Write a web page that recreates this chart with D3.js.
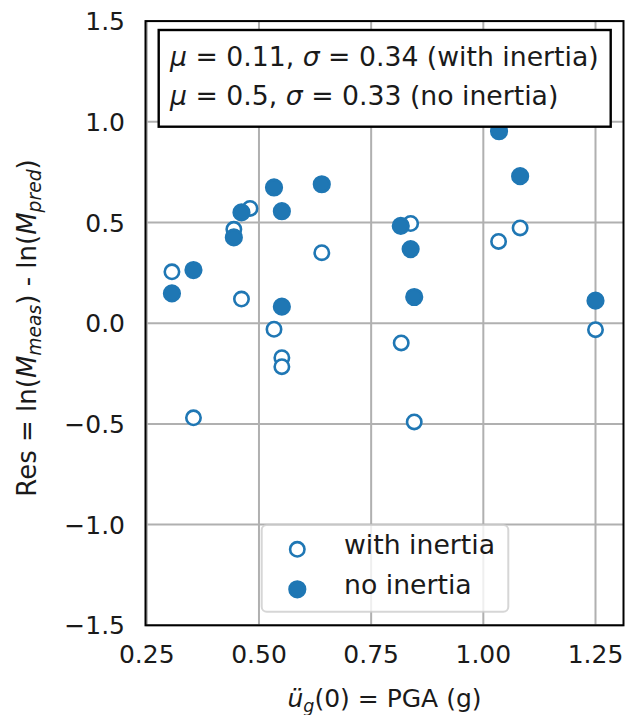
<!DOCTYPE html>
<html>
<head>
<meta charset="utf-8">
<script src="https://cdn.jsdelivr.net/npm/d3@7"></script>
<style>
  html, body { margin: 0; padding: 0; background: #fff; }
  svg { display: block; }
  text { font-family: "DejaVu Sans", sans-serif; fill: #1a1a1a; }
</style>
</head>
<body>
<svg id="chart" width="627" height="715"></svg>
<script>
// ---- data ----
const pgaWith = [0.306, 0.354, 0.444, 0.461, 0.480, 0.5335, 0.551, 0.551, 0.640, 0.817, 0.838, 0.846, 1.034, 1.082, 1.250];
const resWith = [0.255, -0.470, 0.466, 0.120, 0.570, -0.030, -0.171, -0.216, 0.350, -0.098, 0.495, -0.490, 0.406, 0.473, -0.032];
const pgaNo = [0.306, 0.354, 0.444, 0.461, 0.5335, 0.551, 0.551, 0.640, 0.816, 0.838, 0.846, 1.035, 1.082, 1.250];
const resNo = [0.148, 0.264, 0.426, 0.550, 0.674, 0.556, 0.082, 0.690, 0.483, 0.368, 0.130, 0.953, 0.730, 0.112];
const seriesNames = ["with inertia", "no inertia"];
const xTicks = [0.25, 0.50, 0.75, 1.00, 1.25];
const xTickLabels = ["0.25", "0.50", "0.75", "1.00", "1.25"];
const yTicks = [-1.5, -1.0, -0.5, 0.0, 0.5, 1.0, 1.5];
const yTickLabels = ["\u22121.5", "\u22121.0", "\u22120.5", "0.0", "0.5", "1.0", "1.5"];
const statLines = [
  {mu: "0.11", sigma: "0.34", tag: "(with inertia)"},
  {mu: "0.5", sigma: "0.33", tag: "(no inertia)"}
];

// ---- layout ----
const color = "#1f77b4";
const fs = 25;     // tick labels & axis labels
const fsT = 26.7;  // stats box & legend
const L = 145.5, R = 623.5, T = 21.1, B = 625.3;
const svg = d3.select("#chart");
const x = d3.scaleLinear().domain([0.2471, 1.3124]).range([L, R]);
const y = d3.scaleLinear().domain([-1.5, 1.5]).range([B, T]);

// grid
const grid = svg.append("g");
grid.selectAll("line.gx").data(xTicks).join("line")
  .attr("x1", d => x(d)).attr("x2", d => x(d)).attr("y1", T).attr("y2", B)
  .attr("stroke", "#b0b0b0").attr("stroke-width", 2);
grid.selectAll("line.gy").data(yTicks).join("line")
  .attr("y1", d => y(d)).attr("y2", d => y(d)).attr("x1", L).attr("x2", R)
  .attr("stroke", "#b0b0b0").attr("stroke-width", 2);

// points
const withData = pgaWith.map((v, i) => ({x: v, y: resWith[i]}));
const noData = pgaNo.map((v, i) => ({x: v, y: resNo[i]}));
svg.append("g").selectAll("circle").data(withData).join("circle")
  .attr("cx", d => x(d.x)).attr("cy", d => y(d.y)).attr("r", 7.2)
  .attr("fill", "#fff").attr("stroke", color).attr("stroke-width", 2.6);
svg.append("g").selectAll("circle").data(noData).join("circle")
  .attr("cx", d => x(d.x)).attr("cy", d => y(d.y)).attr("r", 7.8)
  .attr("fill", color).attr("stroke", color).attr("stroke-width", 2.6);

// frame
svg.append("rect").attr("x", L).attr("y", T).attr("width", R - L).attr("height", B - T)
  .attr("fill", "none").attr("stroke", "#000").attr("stroke-width", 2);

// tick labels
svg.append("g").selectAll("text").data(xTicks).join("text")
  .attr("x", d => x(d)).attr("y", 663).attr("text-anchor", "middle")
  .attr("font-size", fs).text((d, i) => xTickLabels[i]);
svg.append("g").selectAll("text").data(yTicks).join("text")
  .attr("x", 125).attr("y", d => y(d)).attr("dy", "0.36em").attr("text-anchor", "end")
  .attr("font-size", fs).text((d, i) => yTickLabels[i]);

// x label
const xl = svg.append("text").attr("x", (L + R) / 2).attr("y", 707)
  .attr("text-anchor", "middle").attr("font-size", fs);
xl.append("tspan").attr("font-style", "italic").text("\u00fc");
xl.append("tspan").attr("font-style", "italic").attr("font-size", fs * 0.7).attr("dy", 5).text("g");
xl.append("tspan").attr("dy", -5).text("(0) = PGA (g)");

// y label
const yl = svg.append("text").attr("transform", `translate(36,328) rotate(-90)`)
  .attr("text-anchor", "middle").attr("font-size", 26);
yl.append("tspan").text("Res = ln(");
yl.append("tspan").attr("font-style", "italic").text("M");
yl.append("tspan").attr("font-style", "italic").attr("font-size", 26 * 0.72).attr("dy", 5).text("meas");
yl.append("tspan").attr("dy", -5).text(") - ln(");
yl.append("tspan").attr("font-style", "italic").text("M");
yl.append("tspan").attr("font-style", "italic").attr("font-size", 26 * 0.72).attr("dy", 5).text("pred");
yl.append("tspan").attr("dy", -5).text(")");

// stats box
svg.append("rect").attr("x", 158.7).attr("y", 30).attr("width", 452).attr("height", 96.7)
  .attr("fill", "#fff").attr("stroke", "#000").attr("stroke-width", 2.4);
const st = svg.append("g");
statLines.forEach((s, i) => {
  const t = st.append("text").attr("x", 170).attr("y", 66 + i * 39).attr("font-size", fsT);
  t.append("tspan").attr("font-style", "italic").text("\u03bc");
  t.append("tspan").text(` = ${s.mu}, `);
  t.append("tspan").attr("font-style", "italic").text("\u03c3");
  t.append("tspan").text(` = ${s.sigma} ${s.tag}`);
});

// legend
const lg = svg.append("g");
lg.append("rect").attr("x", 261.7).attr("y", 525).attr("width", 246.6).attr("height", 86.7)
  .attr("rx", 5).attr("fill", "#fff").attr("fill-opacity", 0.8)
  .attr("stroke", "#cccccc").attr("stroke-opacity", 0.8).attr("stroke-width", 2);
seriesNames.forEach((name, i) => {
  const cy = 549.3 + i * 40;
  lg.append("circle").attr("cx", 297.3).attr("cy", cy).attr("r", i === 0 ? 7.2 : 7.8)
    .attr("fill", i === 0 ? "#fff" : color).attr("stroke", color).attr("stroke-width", 2.6);
  lg.append("text").attr("x", 344).attr("y", cy + 5).attr("font-size", fsT).text(name);
});
</script>
</body>
</html>
